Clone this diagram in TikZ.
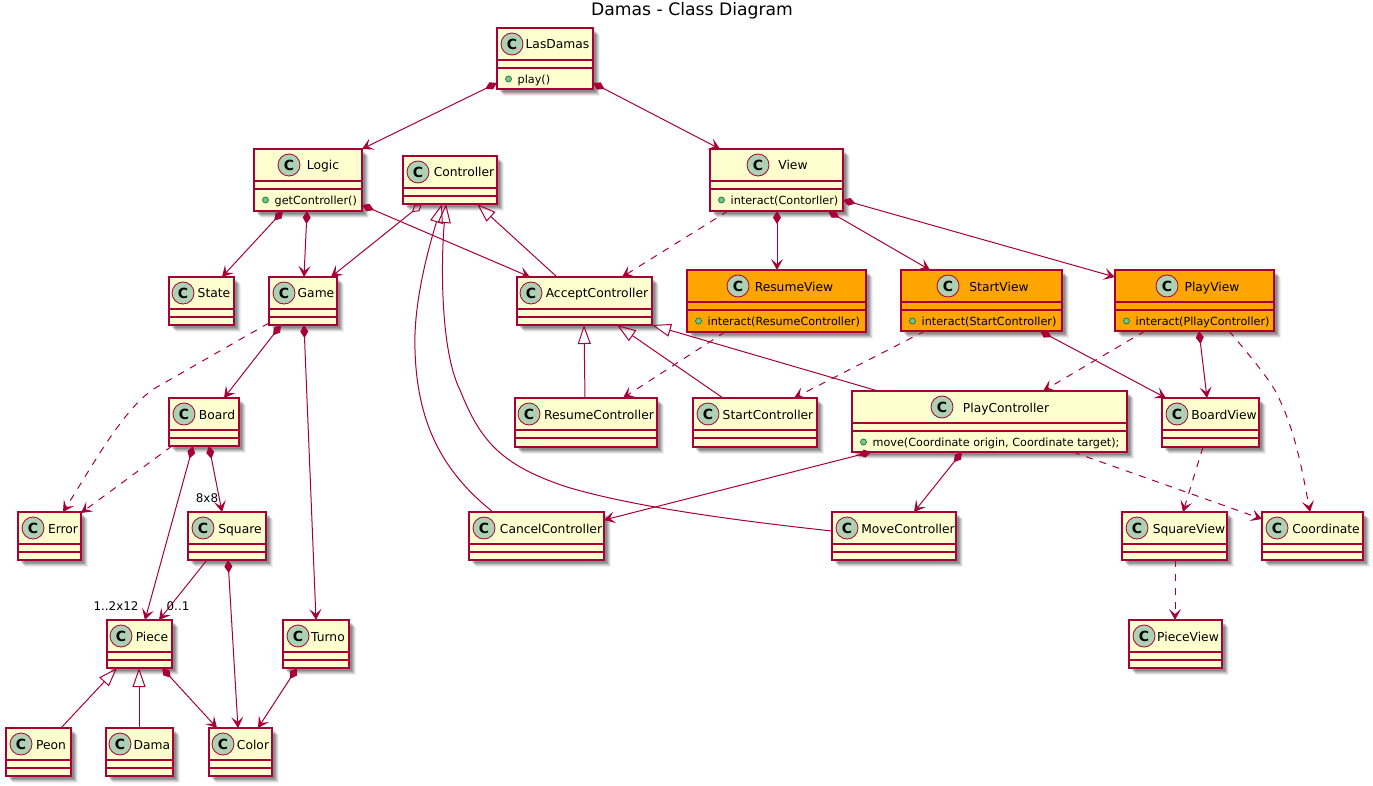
\documentclass[tikz,border=0pt]{standalone}
\usepackage{fontspec}
\setmainfont{DejaVu Sans}
\usetikzlibrary{arrows.meta,shadows}
\definecolor{umlred}{HTML}{A80036}
\definecolor{umlyel}{HTML}{FEFECE}
\definecolor{umlora}{HTML}{FFA500}
\definecolor{umlspot}{HTML}{ADD1B2}
\definecolor{visfill}{HTML}{84BE84}
\definecolor{visline}{HTML}{038048}
\tikzset{
  clsbox/.style={draw=umlred,line width=1.15pt,inner sep=0pt,outer sep=0pt,anchor=north west,
    drop shadow={shadow xshift=7pt,shadow yshift=-7pt,fill=black,opacity=.06},
    drop shadow={shadow xshift=6pt,shadow yshift=-6pt,fill=black,opacity=.09},
    drop shadow={shadow xshift=5pt,shadow yshift=-5pt,fill=black,opacity=.12},
    drop shadow={shadow xshift=4pt,shadow yshift=-4pt,fill=black,opacity=.14},
    drop shadow={shadow xshift=3pt,shadow yshift=-3pt,fill=black,opacity=.14}},
  yelbox/.style={clsbox,fill=umlyel},
  orabox/.style={clsbox,fill=umlora},
  divider/.style={draw=umlred,line width=1.05pt},
  spot/.style={circle,draw=umlred,line width=.8pt,fill=umlspot,minimum size=22pt,inner sep=0pt,font=\fontsize{14}{14}\bfseries},
  ttl/.style={inner sep=0pt,font=\fontsize{12.3}{14}\selectfont,text height=9.5pt,text depth=2.5pt},
  mth/.style={inner sep=0pt,anchor=west,font=\fontsize{11.2}{12}\selectfont,text height=8pt,text depth=2.5pt},
  vis/.style={circle,draw=visline,line width=.7pt,fill=visfill,minimum size=6pt,inner sep=0pt},
  mult/.style={inner sep=0pt,font=\fontsize{11.9}{14}\selectfont},
  edge/.style={draw=umlred,line width=1pt},
  hd/.tip={Stealth[length=11pt,width=12pt,inset=5pt]},
  rel/.style={edge,-hd},
  comp/.style={edge,{Diamond[length=13pt,width=8pt]}-hd},
  aggr/.style={edge,{Diamond[open,length=13pt,width=8pt]}-hd},
  dep/.style={edge,-hd,dash pattern=on 7pt off 7pt},
  gen/.style={edge,{Triangle[open,length=19pt,width=13pt]}-},
}
\def\boxstyle{yelbox}
% name x1 y1 x2 y2 spotx titlex title
\newcommand{\plainclass}[8]{%
  \node[\boxstyle,minimum width={#4-#2},minimum height={#5-#3}] (#1) at (#2,#3) {};
  \draw[divider] ([yshift=-32pt]#1.north west) -- ([yshift=-32pt]#1.north east);
  \draw[divider] ([yshift=-40pt]#1.north west) -- ([yshift=-40pt]#1.north east);
  \node[spot] (#1-c) at (#6,#3+16) {C};
  \node[ttl] (#1-t) at (#7,#3+17.5) {#8};
}
\newcommand{\methclass}[9]{%
  \plainclass{#1}{#2}{#3}{#4}{#5}{#6}{#7}{#8}
  \node[vis] (#1-d) at (#2+11.5,#3+51) {};
  \node[mth] (#1-m) at (#2+20.5,#3+52.5) {#9};
}
\begin{document}
\begin{tikzpicture}[x=1pt,y=-1pt]
\path[use as bounding box,fill=white] (0,0) rectangle (1373,786);
\node[inner sep=0pt,font=\fontsize{17.2}{20}\selectfont] (title) at (692,10.5) {Damas - Class Diagram};

\methclass{lasdamas}{497}{28}{593}{89}{512}{557.5}{LasDamas}{play()}
\methclass{logic}{254}{149}{362}{211}{289}{323}{Logic}{getController()}
\plainclass{controller}{403}{156}{497}{204}{418}{464}{Controller}
\methclass{view}{710}{149}{843}{211}{758}{793}{View}{interact(Contorller)}
\plainclass{state}{169}{277}{234}{325}{183}{214}{State}
\plainclass{game}{269}{277}{337}{325}{284}{316}{Game}
\plainclass{accept}{517}{277}{652}{325}{531}{597}{AcceptController}
\plainclass{resumec}{515}{398}{657}{447}{529}{599}{ResumeController}
\plainclass{startc}{693}{398}{817}{447}{708}{768}{StartController}
\methclass{playc}{852}{391}{1127}{452}{942}{1006}{PlayController}{move(Coordinate origin, Coordinate target);}
\plainclass{boardv}{1162}{398}{1259}{447}{1177}{1224}{BoardView}
\plainclass{board}{169}{398}{239}{446}{184}{217}{Board}
\plainclass{error}{18}{512}{81}{560}{33}{63}{Error}
\plainclass{square}{188}{512}{266}{560}{203}{240}{Square}
\plainclass{cancel}{469}{512}{604}{560}{484}{551}{CancelController}
\plainclass{move}{832}{512}{956}{560}{847}{908}{MoveController}
\plainclass{squarev}{1122}{512}{1227}{560}{1137}{1189}{SquareView}
\plainclass{coord}{1262}{512}{1363}{560}{1277}{1326}{Coordinate}
\plainclass{piece}{107}{620}{172}{668}{121}{152}{Piece}
\plainclass{turno}{283}{620}{349}{668}{298}{328}{Turno}
\plainclass{piecev}{1129}{620}{1222}{668}{1144}{1188}{PieceView}
\plainclass{peon}{6}{728}{71}{776}{21}{51}{Peon}
\plainclass{dama}{106}{728}{173}{776}{120}{152}{Dama}
\plainclass{color}{209}{728}{272}{776}{223}{253}{Color}
\def\boxstyle{orabox}
\methclass{resumev}{687}{270}{866}{332}{738}{794}{ResumeView}{interact(ResumeController)}
\methclass{startv}{901}{270}{1062}{331}{948}{999}{StartView}{interact(StartController)}
\methclass{playv}{1115}{270}{1274}{331}{1167}{1212}{PlayView}{interact(PllayController)}

\draw[comp] (lasdamas.west |- 0,83) -- (logic.north -| 362,0);
\draw[comp] (lasdamas.east |- 0,83) -- (view.north -| 720,0);
\draw[comp] (logic.south -| 283,0) -- (state.north -| 222,0);
\draw[comp] (logic.south -| 307,0) -- (game.north -| 304,0);
\draw[comp] (logic.east |- 0,205) -- (accept.north -| 530,0);
\draw[aggr] (controller.south -| 422,0) -- (game.north -| 331,0);
\draw[gen] (controller.south -| 477,0) -- (accept.north -| 557,0);
\draw[gen] (controller.south -| 442,0) .. controls (431,240) and (413,300) .. (415,350)
   .. controls (417,420) and (440,470) .. (cancel.north -| 493,0);
\draw[gen] (controller.south -| 446,0) .. controls (441,260) and (440,350) .. (460,390)
   .. controls (480,440) and (500,465) .. (567,487) .. controls (630,506) and (730,520) .. (move.west |- 0,531);
\draw[gen] (accept.south -| 652,0) -- (playc.north -| 878,0);
\draw[gen] (accept.south -| 617,0) -- (startc.north -| 723,0);
\draw[gen] (accept.south -| 584,0) -- (resumec.north -| 585,0);
\draw[dep] (view.south -| 728,0) -- (accept.north -| 622,0);
\draw[comp] (view.south -| 777,0) -- (resumev.north -| 777,0);
\draw[comp] (view.south -| 828,0) -- (startv.north -| 930,0);
\draw[comp] (view.east |- 0,200) -- (playv.west |- 0,277);
\draw[dep] (resumev.south -| 725,0) -- (resumec.north -| 623,0);
\draw[dep] (startv.south -| 925,0) -- (startc.north -| 794,0);
\draw[comp] (startv.south -| 1040,0) -- (boardv.north -| 1166,0);
\draw[dep] (playv.south -| 1145,0) -- (playc.north -| 1043,0);
\draw[comp] (playv.south -| 1199,0) -- (boardv.north -| 1207,0);
\draw[dep] (playv.south -| 1229,0) .. controls (1245,350) and (1262,370) .. (1273,387)
   .. controls (1295,425) and (1303,475) .. (coord.north -| 1310,0);
\draw[dep] (playc.south -| 1073,0) -- (coord.west |- 0,519);
\draw[comp] (playc.south -| 871,0) -- (cancel.east |- 0,520);
\draw[comp] (playc.south -| 962,0) -- (move.north -| 914,0);
\draw[dep] (boardv.south -| 1203,0) -- (squarev.north -| 1183,0);
\draw[dep] (squarev.south -| 1175,0) -- (piecev.north -| 1175,0);
\draw[dep] (game.west |- 0,323) .. controls (230,345) and (175,377) .. (157,387)
   .. controls (125,405) and (90,470) .. (error.north -| 63,0);
\draw[comp] (game.south -| 281,0) -- (board.north -| 224,0);
\draw[comp] (game.south -| 304,0) -- (turno.north -| 316,0);
\draw[dep] (board.south -| 172,0) -- (error.east |- 0,513);
\draw[comp] (board.south -| 193,0) -- (piece.north -| 145,0);
\draw[comp] (board.south -| 209,0) -- (square.north -| 222,0);
\draw[rel] (square.south -| 207,0) -- (piece.north -| 159,0);
\draw[comp] (square.south -| 228,0) -- (color.north -| 238,0);
\draw[comp] (piece.south -| 162,0) -- (color.north -| 217,0);
\draw[comp] (turno.south -| 297,0) -- (color.north -| 258,0);
\draw[gen] (piece.south -| 117,0) -- (peon.north -| 61,0);
\draw[gen] (piece.south -| 139,0) -- (dama.north -| 139,0);

\node[mult] (l8) at (207,498) {8x8};
\node[mult] (l12) at (116,606) {1..2x12};
\node[mult] (l01) at (178,606) {0..1};
\end{tikzpicture}
\end{document}
